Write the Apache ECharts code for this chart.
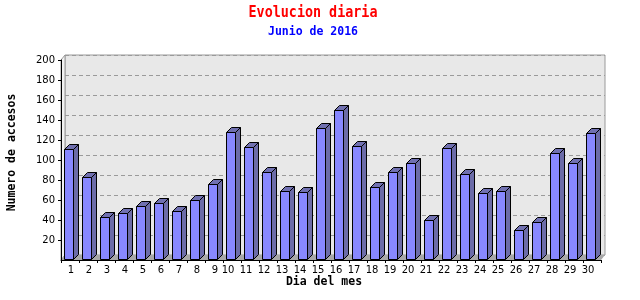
<!DOCTYPE html>
<html><head><meta charset="utf-8">
<script src="https://cdn.jsdelivr.net/npm/echarts@6/dist/echarts.min.js"></script>
<style>html,body{margin:0;padding:0;background:#fff}#c{width:640px;height:300px}</style>
</head><body><div id="c"></div>
<script>
const days = ['1','2','3','4','5','6','7','8','9','10','11','12','13','14','15','16','17','18','19','20','21','22','23','24','25','26','27','28','29','30'];
const accesos = [111,83,43,47,54,57,49,60,76,128,113,88,69,68,132,150,114,73,88,97,40,112,86,67,69,30,38,107,97,127];
const yMin = 0, yMax = 200, yStep = 20;
const titleText = 'Evolucion diaria';
const subtitleText = 'Junio de 2016';
const yTitle = 'Numero de accesos';
const xTitle = 'Dia del mes';

const DX = 4, DY = 5, BD = 5;
const chart = echarts.init(document.getElementById('c'), null, {renderer: 'canvas'});
const lblFont = {fontFamily: 'DejaVu Sans', fontSize: 10, color: '#000'};
chart.setOption({
  animation: false,
  backgroundColor: '#fff',
  grid: [
    {left: 61, top: 60, width: 540, height: 200, show: false},
    {left: 61 + DX, top: 60 - DY, width: 540, height: 200, show: true,
     backgroundColor: '#e8e8e8', borderColor: '#9a9a9a', borderWidth: 1}
  ],
  xAxis: [
    {type: 'category', gridIndex: 0, data: days, boundaryGap: true, z: 10,
     axisLine: {lineStyle: {color: '#000', width: 1}},
     axisTick: {show: true, interval: 0, length: 3, lineStyle: {color: '#000'}},
     axisLabel: {interval: 0, margin: 5,
       formatter: v => v.length > 1 ? '{a|' + v + '}' : '{b|' + v + '}',
       rich: {a: Object.assign({padding: [0, 8, 0, 0]}, lblFont), b: Object.assign({padding: [0, 0, 0, 2]}, lblFont)}},
     splitLine: {show: false}},
    {type: 'value', gridIndex: 1, min: 0, max: 1, show: false}
  ],
  yAxis: [
    {type: 'value', gridIndex: 0, min: yMin, max: yMax, interval: yStep, z: 10,
     axisLine: {show: true, lineStyle: {color: '#000', width: 1}},
     axisTick: {show: true, length: 3, lineStyle: {color: '#000'}},
     axisLabel: Object.assign({margin: 6, showMinLabel: false, padding: [5, 0, 0, 0]}, lblFont),
     splitLine: {show: false}},
    {type: 'value', gridIndex: 1, min: yMin, max: yMax, interval: yStep,
     axisLine: {show: false}, axisTick: {show: false}, axisLabel: {show: false},
     splitLine: {show: true, lineStyle: {color: '#9a9a9a', type: [4, 3], width: 1}}}
  ],
  graphic: [
    {type: 'text', x: 313, y: 13, scaleY: 1.2, style: {text: titleText, fill: '#ff0000',
      font: 'bold 13.4px "DejaVu Sans Mono"', textAlign: 'center', textVerticalAlign: 'middle'}},
    {type: 'text', x: 313, y: 32, style: {text: subtitleText, fill: '#0000ff',
      font: 'bold 11.5px "DejaVu Sans Mono"', textAlign: 'center', textVerticalAlign: 'middle'}},
    {type: 'text', x: 12.5, y: 152.5, rotation: Math.PI / 2, style: {text: yTitle, fill: '#000',
      font: 'bold 11.5px "DejaVu Sans Mono"', textAlign: 'center', textVerticalAlign: 'middle'}},
    {type: 'text', x: 324, y: 282, style: {text: xTitle, fill: '#000',
      font: 'bold 11.5px "DejaVu Sans Mono"', textAlign: 'center', textVerticalAlign: 'middle'}}
  ],
  series: [
    {type: 'custom', xAxisIndex: 0, yAxisIndex: 0, z: 1, silent: true, clip: false,
     data: [[0, 0]],
     renderItem: function (params, api) {
       const bw = api.size([1, 0])[0];
       const a = api.coord([0, yMin]);
       const b = api.coord([days.length - 1, yMin]);
       const t = api.coord([0, yMax]);
       const L = a[0] - bw / 2, R = b[0] + bw / 2, yB = a[1], yT = t[1];
       return {type: 'group', children: [
         {type: 'polygon', shape: {points: [[L, yB], [L, yT], [L + DX, yT - DY], [L + DX, yB - DY]]},
          style: {fill: '#f2f2f2', stroke: '#9a9a9a', lineWidth: 1}},
         {type: 'polygon', shape: {points: [[L, yB], [R, yB], [R + DX, yB - DY], [L + DX, yB - DY]]},
          style: {fill: '#a8a8a8'}}
       ]};
     }},
    {type: 'custom', xAxisIndex: 0, yAxisIndex: 0, z: 2, clip: false,
     data: accesos.map((v, i) => [i, v]),
     renderItem: function (params, api) {
       const i = api.value(0), v = api.value(1);
       const bw = api.size([1, 0])[0];
       const c = api.coord([i, v]);
       const c0 = api.coord([i, 0]);
       const start = c[0] - bw / 2;
       const x0 = Math.round(start + bw * 0.18) + 0.5;
       const x1 = x0 + Math.round(bw * 0.5);
       const yT = Math.round(c[1]) + 0.5, yB = Math.round(c0[1]) - 0.5;
       const st = {stroke: '#000', lineWidth: 1};
       return {type: 'group', children: [
         {type: 'polygon', shape: {points: [[x1, yB], [x1 + BD, yB - BD], [x1 + BD, yT - BD], [x1, yT]]},
          style: Object.assign({fill: '#6c6ca8'}, st)},
         {type: 'polygon', shape: {points: [[x0, yT], [x0 + BD, yT - BD], [x1 + BD, yT - BD], [x1, yT]]},
          style: Object.assign({fill: '#7070b0'}, st)},
         {type: 'rect', shape: {x: x0, y: yT, width: x1 - x0, height: yB - yT},
          style: Object.assign({fill: '#8888ff'}, st)}
       ]};
     }}
  ]
});
</script>
</body></html>
